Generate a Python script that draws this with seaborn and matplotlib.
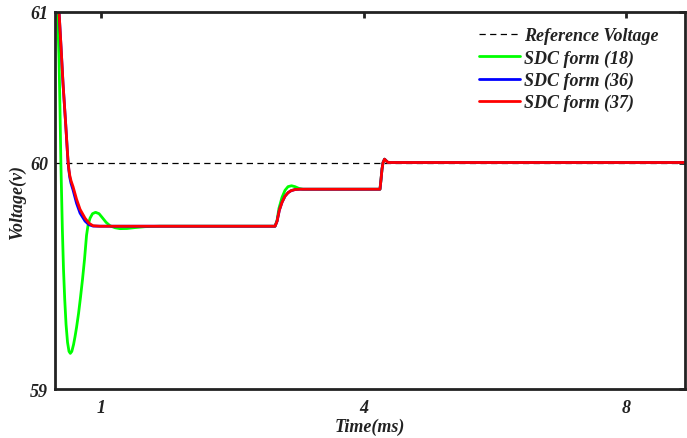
import matplotlib
matplotlib.use("Agg")
import matplotlib.pyplot as plt
import pandas as pd
import seaborn as sns

# Time axis (ms) and voltage samples for each controller
time_18 = [0.495, 0.507, 0.524, 0.535, 0.545, 0.562, 0.575, 0.589, 0.604, 0.621,
           0.638, 0.653, 0.670, 0.690, 0.707, 0.724, 0.747, 0.769, 0.792, 0.815,
           0.838, 0.855, 0.878, 0.906, 0.941, 0.981, 1.015, 1.061, 1.106, 1.163,
           1.220, 1.300, 1.392, 1.506, 1.677, 2.990, 3.013, 3.035, 3.070, 3.104,
           3.138, 3.178, 3.218, 3.264, 3.309, 4.188, 4.200, 4.211, 4.223, 4.240,
           4.257, 4.280, 4.302, 7.670]
volt_18 = [61.116, 61.000, 60.685, 60.353, 60.000, 59.558, 59.293, 59.094, 58.928, 58.809,
           58.749, 58.736, 58.749, 58.795, 58.848, 58.908, 59.001, 59.107, 59.226, 59.359,
           59.518, 59.584, 59.631, 59.661, 59.670, 59.661, 59.637, 59.604, 59.581, 59.568,
           59.562, 59.563, 59.569, 59.575, 59.578, 59.578, 59.617, 59.697, 59.770, 59.816,
           59.840, 59.846, 59.840, 59.828, 59.823, 59.823, 59.889, 59.956, 60.000, 60.022,
           60.012, 60.000, 60.000, 60.000]

time_36 = [0.507, 0.524, 0.547, 0.570, 0.600, 0.610, 0.619, 0.627, 0.636, 0.647,
           0.661, 0.684, 0.724, 0.764, 0.821, 0.866, 0.912, 0.992, 2.990, 3.013,
           3.039, 3.070, 3.104, 3.138, 3.172, 3.218, 3.275, 4.188, 4.200, 4.211,
           4.223, 4.240, 4.257, 4.280, 4.302, 7.670]
volt_36 = [61.116, 61.000, 60.765, 60.519, 60.254, 60.161, 60.075, 60.005, 59.950, 59.900,
           59.862, 59.818, 59.730, 59.665, 59.612, 59.588, 59.579, 59.578, 59.578, 59.611,
           59.684, 59.737, 59.777, 59.800, 59.813, 59.821, 59.823, 59.823, 59.889, 59.956,
           60.000, 60.022, 60.012, 60.000, 60.000, 60.000]

time_37 = [0.507, 0.524, 0.547, 0.570, 0.600, 0.610, 0.619, 0.627, 0.636, 0.647,
           0.661, 0.684, 0.724, 0.764, 0.821, 0.866, 0.912, 0.992, 2.990, 3.013,
           3.039, 3.070, 3.104, 3.138, 3.172, 3.218, 3.275, 4.188, 4.200, 4.211,
           4.223, 4.240, 4.257, 4.280, 4.302, 7.670]
volt_37 = [61.116, 61.000, 60.765, 60.519, 60.254, 60.161, 60.075, 60.009, 59.956, 59.913,
           59.879, 59.840, 59.757, 59.690, 59.631, 59.598, 59.581, 59.578, 59.578, 59.611,
           59.684, 59.737, 59.777, 59.800, 59.813, 59.821, 59.823, 59.823, 59.889, 59.956,
           60.000, 60.022, 60.012, 60.000, 60.000, 60.000]

reference_voltage = 60.0

series_names = ["SDC form (18)", "SDC form (36)", "SDC form (37)"]
series_colors = ["#00ff00", "#0000ff", "#ff0000"]

x_tick_pos = [1, 4, 7]
x_tick_labels = ["1", "4", "8"]
y_tick_pos = [58.5, 60, 61]
y_tick_labels = ["59", "60", "61"]

frames = []
for name, t, v in zip(series_names, [time_18, time_36, time_37],
                      [volt_18, volt_36, volt_37]):
    frames.append(pd.DataFrame({"time": t, "voltage": v, "series": name}))
df = pd.concat(frames, ignore_index=True)

sns.set_style("white")
font = ["Liberation Serif", "DejaVu Serif"]
plt.rcParams["font.family"] = font
plt.rcParams["font.weight"] = "bold"
plt.rcParams["font.style"] = "italic"

ink = "#222222"
fs = 13

fig = plt.figure(figsize=(6.87, 4.39), dpi=100)
ax = fig.add_axes([55 / 687, 1 - 390 / 439, 630 / 687, 377.5 / 439])

ref_line = ax.axhline(reference_voltage, color="black", lw=0.9,
                      linestyle=(0, (5, 3.5)), label="Reference Voltage", zorder=1)

sns.lineplot(data=df, x="time", y="voltage", hue="series", hue_order=series_names,
             palette=series_colors, estimator=None, sort=False, lw=2.0, ax=ax,
             legend=False, zorder=2)

ax.set_xlim(0.478, 7.67)
ax.set_ylim(58.5, 61.0)
ax.set_xticks(x_tick_pos)
ax.set_xticklabels(x_tick_labels)
ax.set_yticks(y_tick_pos)
ax.set_yticklabels(y_tick_labels)

for side in ["left", "right", "top", "bottom"]:
    ax.spines[side].set_visible(True)
    ax.spines[side].set_color(ink)
    ax.spines[side].set_linewidth(2.0)

ax.tick_params(axis="both", direction="in", length=4, width=2, color=ink,
               top=True, right=True, labelsize=fs, labelcolor=ink)
ax.tick_params(axis="x", pad=7.5)
ax.tick_params(axis="y", pad=5)
for lab in ax.get_xticklabels() + ax.get_yticklabels():
    lab.set_fontweight("bold")
    lab.set_fontstyle("italic")

ax.set_xlabel("Time(ms)", fontsize=fs, fontweight="bold", fontstyle="italic",
              color=ink, labelpad=1)
ax.set_ylabel("Voltage(v)", fontsize=fs, fontweight="bold", fontstyle="italic",
              color=ink, labelpad=3)

handles = [ref_line] + list(ax.get_lines()[1:4])
leg = ax.legend(handles, ["Reference Voltage"] + series_names, loc="upper right",
                bbox_to_anchor=(0.958, 0.958), frameon=False,
                handlelength=2.25, handletextpad=0.25, labelspacing=0.28,
                borderaxespad=0.0, borderpad=0.0,
                prop={"family": font, "weight": "bold", "style": "italic", "size": fs})
for txt in leg.get_texts():
    txt.set_color(ink)

fig.savefig("out.png", dpi=100)
